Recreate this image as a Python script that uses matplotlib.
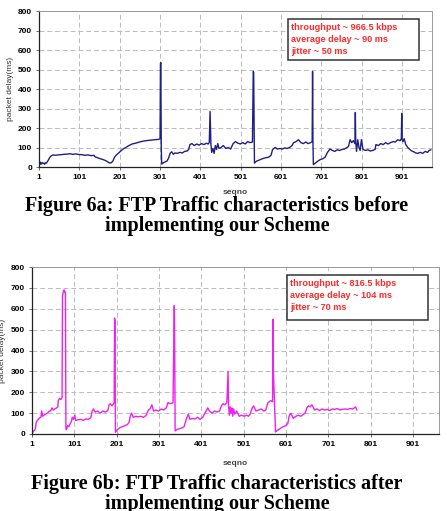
import matplotlib
matplotlib.use('Agg')
import matplotlib.pyplot as plt
from matplotlib.patches import Rectangle

# ---- data ----
seq_before = [1, 3, 5, 7, 9, 11, 13, 15, 17, 19, 21, 24, 28, 32, 36, 42, 48, 55, 62, 70,
              78, 85, 92, 100, 108, 115, 122, 130, 137, 140, 145, 152, 160, 167, 172, 176, 180, 184, 188, 193,
              200, 208, 216, 224, 232, 240, 250, 260, 270, 280, 290, 298, 301, 302, 303, 304, 305, 308, 312, 318,
              322, 326, 330, 334, 338, 344, 350, 356, 362, 368, 372, 375, 380, 386, 392, 398, 404, 410, 416, 420,
              423, 425, 427, 429, 432, 435, 438, 441, 444, 447, 452, 458, 464, 470, 476, 482, 488, 494, 500, 506,
              512, 518, 524, 530, 532, 533, 535, 540, 546, 552, 558, 564, 570, 576, 580, 586, 592, 598, 604, 610,
              616, 622, 628, 632, 638, 644, 650, 656, 662, 668, 674, 678, 679, 680, 681, 686, 692, 698, 704, 710,
              716, 722, 728, 734, 740, 746, 752, 758, 764, 768, 772, 776, 780, 784, 785, 786, 788, 791, 794, 797,
              800, 804, 810, 816, 822, 828, 834, 836, 842, 848, 854, 860, 866, 872, 878, 884, 890, 896, 899, 900,
              901, 903, 906, 910, 915, 920, 925, 930, 935, 940, 946, 952, 958, 964, 968, 972]
delay_before = [20, 12, 25, 15, 22, 18, 20, 14, 22, 20, 25, 35, 50, 58, 62, 60, 62, 63, 65, 66,
                68, 65, 67, 64, 63, 60, 62, 58, 60, 52, 48, 43, 38, 32, 25, 20, 22, 30, 50, 62,
                75, 90, 100, 110, 118, 122, 128, 133, 136, 138, 140, 142, 145, 530, 535, 100, 15, 20, 25, 30,
                45, 70, 78, 65, 72, 70, 75, 72, 80, 82, 90, 115, 120, 110, 118, 112, 120, 115, 122, 118,
                125, 285, 120, 75, 95, 70, 110, 90, 120, 95, 100, 110, 95, 100, 92, 120, 130, 122, 118, 125,
                118, 130, 125, 128, 490, 485, 20, 30, 35, 40, 45, 48, 50, 60, 90, 100, 92, 95, 92, 98,
                95, 100, 110, 125, 130, 140, 125, 120, 128, 120, 125, 130, 490, 120, 12, 20, 30, 38, 42, 50,
                75, 92, 85, 80, 88, 85, 90, 92, 100, 105, 140, 125, 135, 120, 280, 130, 80, 140, 100, 85,
                140, 90, 85, 88, 82, 85, 90, 115, 110, 120, 115, 125, 118, 125, 130, 128, 140, 135, 145, 275,
                140, 130, 145, 115, 100, 90, 82, 78, 72, 70, 75, 70, 80, 75, 85, 88]

seq_after = [1, 3, 5, 7, 9, 11, 13, 16, 19, 22, 24, 26, 29, 33, 37, 41, 45, 48, 51, 55,
             59, 62, 63, 66, 69, 72, 73, 75, 77, 78, 80, 81, 82, 85, 88, 91, 94, 96, 99, 102,
             104, 110, 116, 122, 128, 134, 140, 143, 146, 150, 156, 162, 168, 174, 180, 183, 186, 190, 195, 196,
             197, 198, 202, 208, 214, 220, 226, 230, 233, 236, 240, 246, 252, 258, 264, 270, 276, 280, 284, 288,
             294, 300, 306, 312, 318, 322, 328, 334, 337, 338, 339, 342, 348, 354, 360, 366, 370, 374, 380, 386,
             392, 398, 404, 408, 412, 416, 420, 426, 432, 438, 444, 448, 452, 456, 461, 464, 465, 467, 469, 471,
             473, 475, 477, 480, 484, 490, 496, 502, 508, 512, 516, 520, 524, 530, 536, 542, 548, 553, 558, 565,
             569, 570, 571, 576, 582, 588, 594, 600, 605, 608, 612, 618, 624, 630, 636, 642, 646, 650, 654, 658,
             662, 668, 674, 680, 686, 692, 698, 704, 710, 716, 722, 728, 734, 740, 746, 752, 758, 762, 765, 768]
delay_after = [5, 8, 15, 18, 25, 55, 65, 70, 78, 80, 110, 85, 90, 95, 100, 108, 110, 125, 115, 120,
               125, 130, 160, 170, 165, 175, 660, 685, 690, 680, 680, 30, 20, 40, 35, 50, 60, 80, 70, 90,
               65, 68, 70, 65, 72, 70, 78, 110, 120, 105, 110, 100, 110, 105, 112, 140, 145, 135, 150, 555,
               540, 8, 20, 30, 35, 40, 45, 55, 85, 100, 80, 85, 82, 85, 80, 88, 115, 120, 140, 110,
               115, 110, 120, 115, 125, 150, 145, 150, 615, 400, 15, 20, 25, 28, 35, 75, 95, 70, 75, 72,
               80, 70, 80, 95, 110, 125, 110, 100, 110, 105, 110, 135, 145, 140, 150, 300, 140, 90, 130, 100,
               125, 85, 120, 95, 110, 85, 90, 85, 90, 85, 95, 120, 135, 110, 115, 120, 110, 115, 150, 160,
               155, 550, 300, 10, 20, 28, 35, 40, 50, 85, 100, 75, 85, 90, 85, 95, 100, 125, 135, 130,
               140, 115, 120, 112, 120, 115, 118, 112, 120, 118, 122, 115, 118, 120, 118, 122, 120, 125, 130, 115, 100][:len(seq_after)]

xticks = [1, 101, 201, 301, 401, 501, 601, 701, 801, 901]
yticks = [0, 100, 200, 300, 400, 500, 600, 700, 800]
notes_before = ['throughput ~ 966.5 kbps', 'average delay ~ 90 ms', 'jitter ~ 50 ms']
notes_after = ['throughput ~ 816.5 kbps', 'average delay ~ 104 ms', 'jitter ~ 70 ms']
caption_before = 'Figure 6a: FTP Traffic characteristics before\nimplementing our Scheme'
caption_after = 'Figure 6b: FTP Traffic characteristics after\nimplementing our Scheme'

W, H = 447, 511
fig = plt.figure(figsize=(W/100, H/100), dpi=100)
plt.rcParams['font.family'] = ['Liberation Sans', 'DejaVu Sans']


def px(x, y):
    # pixel (from top-left) -> figure fraction
    return x/W, 1 - y/H


def panel(box, seq, delay, col, xmax, notes, nbox, lab_x, seq_y):
    l, t, r, b = box
    ax = fig.add_axes([l/W, 1-b/H, (r-l)/W, (b-t)/H])
    ax.plot(seq, delay, color=col, lw=1.0)
    ax.set_xlim(1, xmax)
    ax.set_ylim(0, 800)
    ax.set_xticks(xticks)
    ax.set_yticks(yticks)
    for lbl in ax.get_xticklabels() + ax.get_yticklabels():
        lbl.set_fontweight('bold')
    ax.tick_params(labelsize=6, length=2, width=0.6, color='#555555', pad=3)
    ax.grid(True, color='#bbbbbb', ls=(0, (5, 3)), lw=0.7)
    for s in ['left', 'bottom']:
        ax.spines[s].set_color('#222222')
        ax.spines[s].set_linewidth(0.9)
    for s in ['top', 'right']:
        ax.spines[s].set_color('#999999')
        ax.spines[s].set_linewidth(0.7)
    # annotation box
    bl, bt, br, bb = nbox
    ax.add_patch(Rectangle(px(bl, bb), (br-bl)/W, (bb-bt)/H, transform=fig.transFigure,
                           facecolor='white', edgecolor='#333333', lw=1.1, zorder=5))
    for i, s in enumerate(notes):
        fig.text(*px(bl+3, bt+8+i*12.5), s, color='#ff2a2a', fontsize=6.6,
                 fontweight='bold', va='center', ha='left', zorder=6)
    fig.text(*px(lab_x, (t+b)/2), 'packet delay(ms)', rotation=90, fontsize=6,
             color='#333333', va='center', ha='center')
    fig.text(*px((l+r)/2, seq_y), 'seqno', fontsize=6, fontweight='bold',
             color='#444444', va='center', ha='center')
    return ax


panel((39, 11, 432, 167), seq_before, delay_before, '#1f1f88', 975,
      notes_before, (288, 19, 419, 60), 11, 193)
panel((32, 267, 439, 434), seq_after, delay_after, '#f020f0', 962,
      notes_after, (287, 275, 428, 320), 3, 463)

fig.text(*px(217, 216), caption_before, family='Liberation Serif', fontweight='bold',
         fontsize=14.5, ha='center', va='center', linespacing=1.05)
fig.text(*px(217, 494), caption_after, family='Liberation Serif', fontweight='bold',
         fontsize=14.5, ha='center', va='center', linespacing=1.05)

fig.savefig('out.png', dpi=100)
